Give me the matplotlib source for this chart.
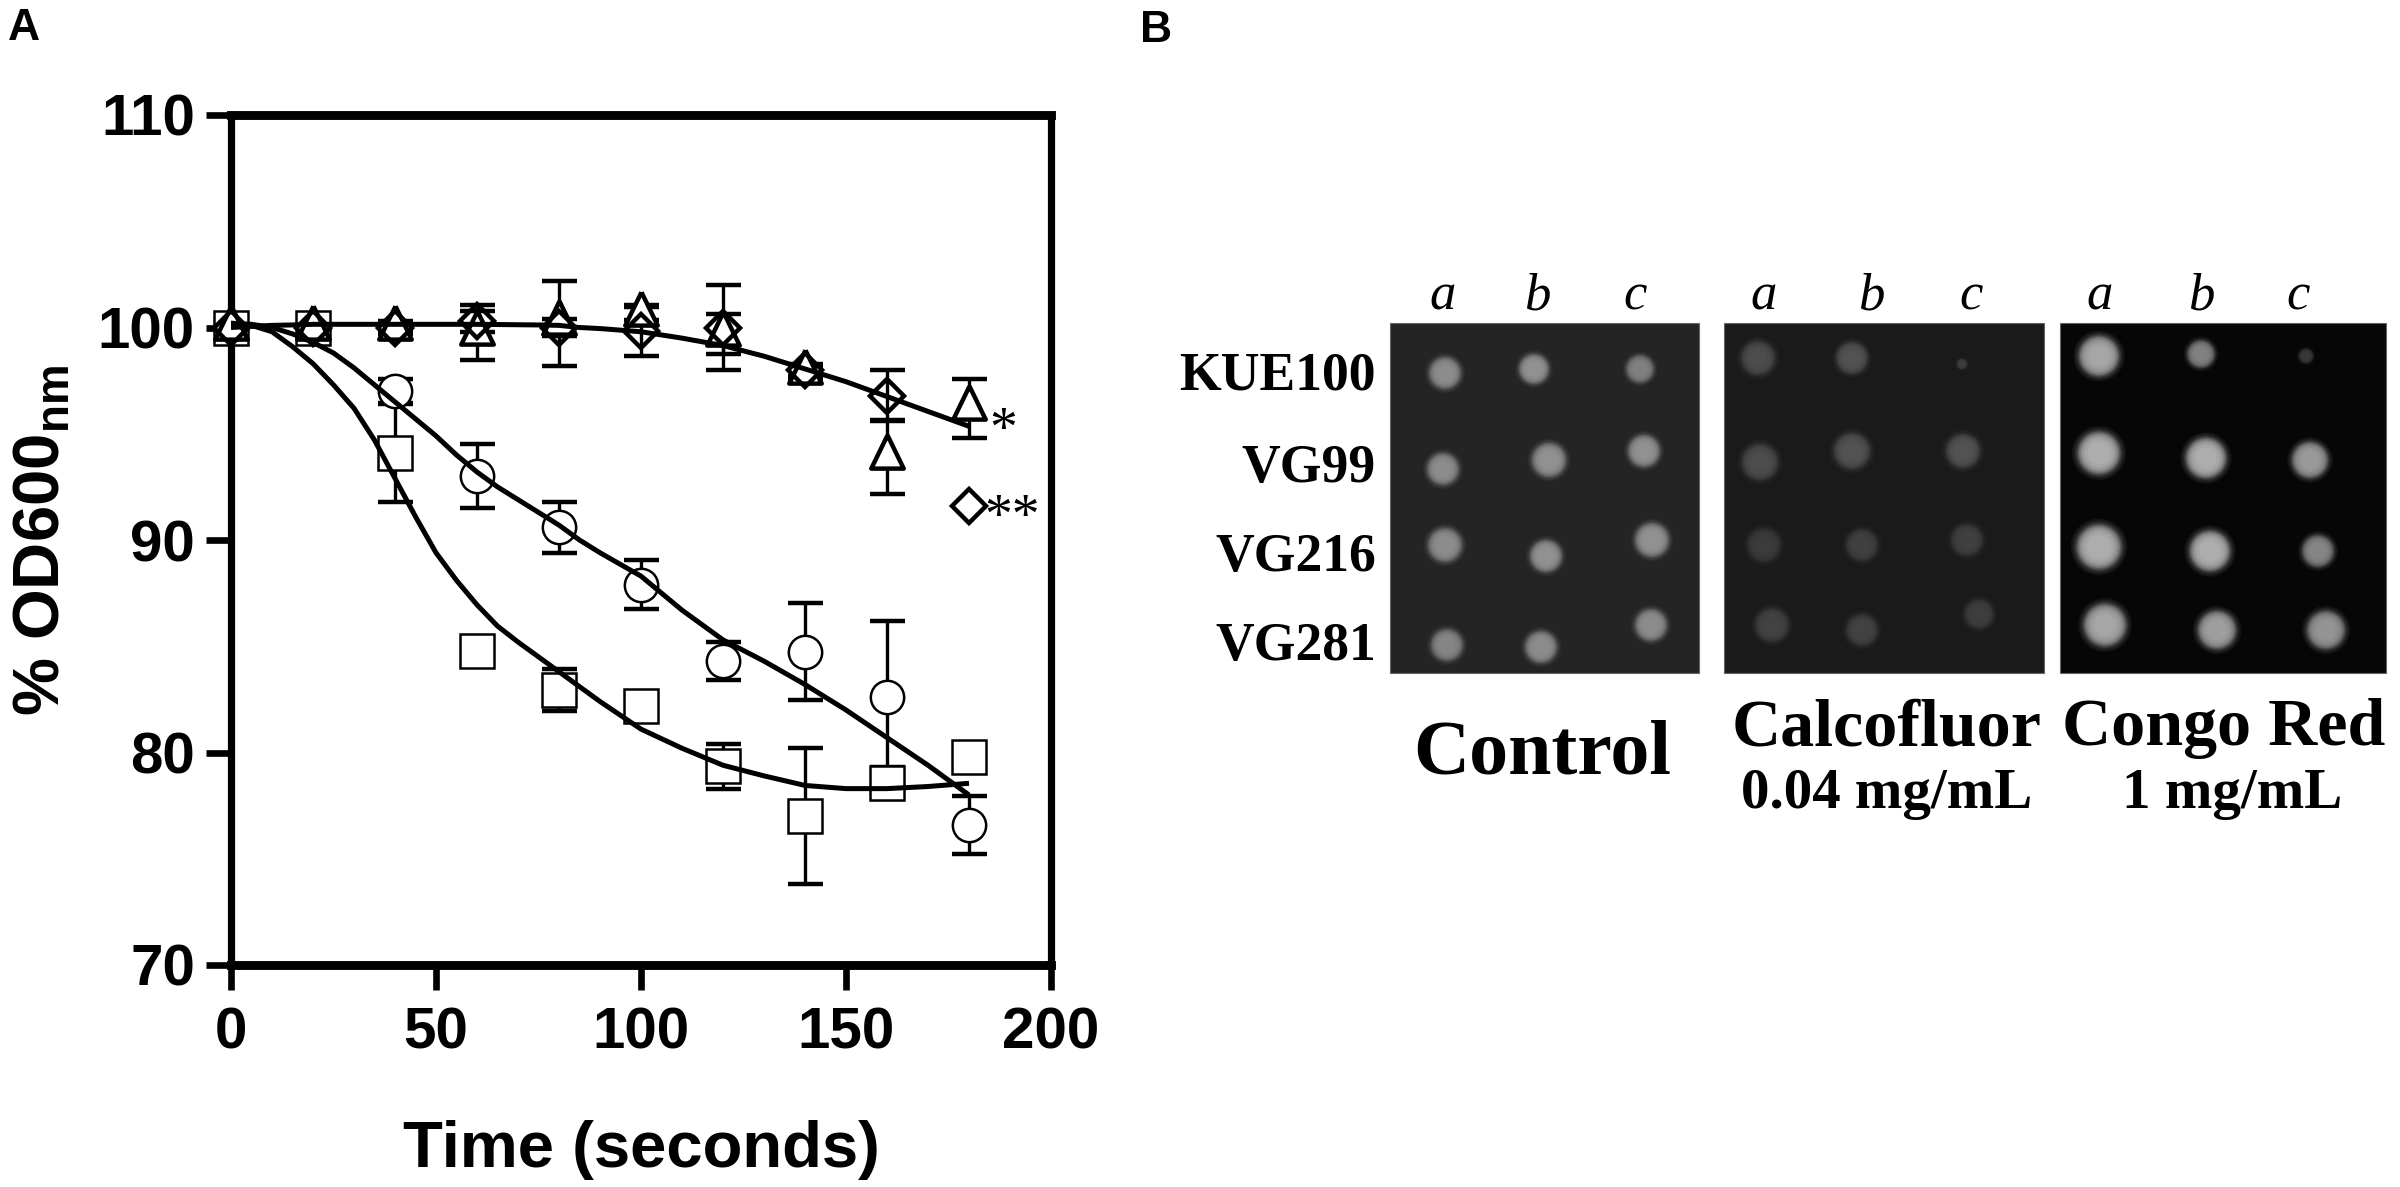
import numpy as np
import matplotlib
matplotlib.use("Agg")
import matplotlib.pyplot as plt
from matplotlib.patches import Rectangle, Circle
from matplotlib.markers import MarkerStyle

plt.rcParams['font.family'] = ['Liberation Sans', 'DejaVu Sans']
plt.rcParams['mathtext.fontset'] = 'custom'
plt.rcParams['mathtext.rm'] = 'Liberation Sans:bold'
plt.rcParams['mathtext.bf'] = 'Liberation Sans:bold'

# ---- panel A data ----
time_s = [0, 20, 40, 60, 80, 100, 120, 140, 160, 180]

circle_val = [100.0, 100.0, 97.0, 93.0, 90.6, 87.9, 84.3, 84.75, 82.6, 76.6]
circle_err = [0, 0, 0.6, 1.5, 1.2, 1.15, 0.9, 2.3, 3.6, 1.37]

square_val = [100.0, 100.0, 94.1, 84.8, 82.95, 82.2, 79.35, 77.0, 78.55, 79.8]
square_err = [0, 0, 2.33, 0, 1.0, 0.3, 1.07, 3.2, 0.75, 0]

triangle_val = [100.0, 100.0, 100.0, 99.75, 100.2, 100.65, 99.7, 97.9, 93.9, 96.2]
triangle_err = [0, 0, 0.3, 1.3, 2.0, 0.3, 0.95, 0.3, 1.75, 1.4]

diamond_val = [100.0, 100.0, 100.0, 100.3, 100.0, 99.85, 100.0, 98.0, 96.8, 91.6]
diamond_err = [0, 0, 0.2, 0.5, 0.4, 1.2, 2.0, 0.3, 1.2, 0]

# fitted curves
fit_t = [0, 5, 10, 15, 20, 25, 30, 35, 40, 45, 50, 55, 60, 65, 70, 75, 80, 85,
         90, 100, 110, 120, 130, 140, 150, 160, 170, 180]
fit_square = [100.2, 100.1, 99.8, 99.1, 98.3, 97.3, 96.2, 94.7, 92.9, 91.1, 89.4,
              88.1, 86.95, 85.95, 85.2, 84.5, 83.8, 83.1, 82.4, 81.1, 80.2, 79.4,
              78.9, 78.45, 78.3, 78.3, 78.4, 78.55]
fit_circle = [100.2, 100.15, 100.0, 99.7, 99.3, 98.8, 98.1, 97.3, 96.5, 95.7, 94.9,
              94.0, 93.2, 92.5, 91.9, 91.3, 90.7, 90.0, 89.4, 88.3, 86.7, 85.3,
              84.3, 83.2, 82.0, 80.7, 79.4, 78.0]
fit_upper = [100.0, 100.05, 100.1, 100.12, 100.15, 100.15, 100.15, 100.15, 100.15,
             100.15, 100.15, 100.15, 100.15, 100.14, 100.13, 100.12, 100.1, 100.0,
             99.95, 99.8, 99.5, 99.15, 98.65, 98.05, 97.45, 96.75, 96.05, 95.35]

# ---- panel B data (pixel positions on the plate photographs) ----
strains = ['KUE100', 'VG99', 'VG216', 'VG281']
strain_y = [390, 482, 571, 660]
replicates = ['a', 'b', 'c']

plate_names = ['Control', 'Calcofluor', 'Congo Red']
plate_doses = ['', '0.04 mg/mL', '1 mg/mL']
plate_left = [1390, 1724, 2060]
plate_right = [1699, 2044, 2386]
plate_bg = [0.14, 0.10, 0.025]
letter_x = [[1443, 1537, 1635], [1764, 1871, 1971], [2100, 2201, 2298]]
name_x = [1542, 1887, 2224]
name_y = [773, 745, 745]
name_size = [28, 24.5, 24.5]
dose_x = [0, 1887, 2232]

ctrl_x = [1445, 1534, 1640, 1443, 1549, 1644, 1445, 1546, 1652, 1447, 1541, 1651]
ctrl_y = [373, 369, 369, 469, 460, 451, 545, 556, 540, 645, 647, 625]
ctrl_r = [15, 14, 13, 15, 16, 15, 16, 15, 16, 15, 15, 15]
ctrl_lum = [0.55, 0.57, 0.50, 0.55, 0.57, 0.57, 0.55, 0.57, 0.57, 0.52, 0.55, 0.55]

calco_x = [1758, 1852, 1962, 1760, 1852, 1963, 1764, 1862, 1967, 1772, 1862, 1979]
calco_y = [358, 358, 364, 462, 451, 451, 545, 545, 540, 625, 630, 614]
calco_r = [16, 15, 5, 17, 17, 16, 16, 15, 15, 16, 15, 14]
calco_lum = [0.30, 0.32, 0.24, 0.30, 0.32, 0.32, 0.23, 0.25, 0.25, 0.26, 0.26, 0.24]

congo_x = [2099, 2201, 2306, 2099, 2206, 2310, 2099, 2210, 2318, 2105, 2217, 2326]
congo_y = [356, 354, 356, 453, 458, 460, 547, 551, 551, 625, 630, 630]
congo_r = [19, 13, 7, 20, 19, 17, 21, 19, 15, 20, 18, 18]
congo_lum = [0.65, 0.50, 0.22, 0.68, 0.68, 0.60, 0.68, 0.68, 0.52, 0.65, 0.62, 0.58]

spots = [(ctrl_x, ctrl_y, ctrl_r, ctrl_lum),
         (calco_x, calco_y, calco_r, calco_lum),
         (congo_x, congo_y, congo_r, congo_lum)]

W, H = 2400, 1187
fig = plt.figure(figsize=(12, 5.935), dpi=200)

# ================= panel A =================
ax = fig.add_axes([231 / W, 1 - 965 / H, 820 / W, 850 / H])
ax.set_xlim(0, 200)
ax.set_ylim(70, 110)
ax.set_xticks([0, 50, 100, 150, 200])
ax.set_yticks([70, 80, 90, 100, 110])
for side in ['top', 'bottom']:
    ax.spines[side].set_linewidth(3.2)
for side in ['left', 'right']:
    ax.spines[side].set_linewidth(2.6)
ax.tick_params(direction='out', length=9, width=2.4, labelsize=21)
ax.tick_params(axis='x', pad=6)
ax.tick_params(axis='y', pad=4)
for lab in ax.get_xticklabels() + ax.get_yticklabels():
    lab.set_fontweight('bold')

# triangle centred on its centroid, as the original software draws it
tri = MarkerStyle(np.array([[0, 1], [-0.73, -0.5], [0.73, -0.5], [0, 1]]))

series = [
    (circle_val, circle_err, dict(marker='o', ms=12, mew=0.9, mfc='white', zorder=3)),
    (square_val, square_err, dict(marker='s', ms=12, mew=0.9, mfc='white', zorder=3)),
    (triangle_val, triangle_err, dict(marker=tri, ms=16, mew=1.6, mfc='white', zorder=3.1)),
    (diamond_val, diamond_err, dict(marker='D', ms=8.9, mew=1.6, mfc='none', zorder=3.2)),
]
t_arr = np.array(time_s)
for vals, errs, style in series:
    vals = np.array(vals)
    errs = np.array(errs)
    has = errs > 0
    ax.errorbar(t_arr[has], vals[has], yerr=errs[has], fmt='none', ecolor='black',
                elinewidth=1.2, capsize=6.3, capthick=1.6, zorder=2, clip_on=False)
    ax.plot(time_s, vals, linestyle='none', color='black', mec='black',
            clip_on=False, **style)

ax.plot(fit_t, fit_square, color='black', lw=1.8, zorder=4, solid_capstyle='butt')
ax.plot(fit_t, fit_circle, color='black', lw=1.8, zorder=4, solid_capstyle='butt')
ax.plot(fit_t, fit_upper, color='black', lw=1.8, zorder=4, solid_capstyle='butt')

ax.annotate('*', xy=(188.3, 95.65), xytext=(0, -9.5), textcoords='offset points',
            ha='center', va='baseline', fontsize=20, family='Liberation Serif',
            annotation_clip=False)
ax.annotate('**', xy=(190.6, 91.57), xytext=(0, -9.5), textcoords='offset points',
            ha='center', va='baseline', fontsize=20, family='Liberation Serif',
            annotation_clip=False)

fig.text(42 / W, 1 - 540 / H, '% OD600$_{\\mathrm{nm}}$', rotation=90,
         ha='center', va='center', fontsize=23.5, fontweight='bold')
fig.text(641 / W, 1 - 1167 / H, 'Time (seconds)', ha='center', va='baseline',
         fontsize=23.5, fontweight='bold')
fig.text(8 / W, 1 - 40 / H, 'A', ha='left', va='baseline', fontsize=16, fontweight='bold')
fig.text(1140 / W, 1 - 42 / H, 'B', ha='left', va='baseline', fontsize=16, fontweight='bold')

# ================= panel B =================
bx = fig.add_axes([1100 / W, 0, 1300 / W, 1])
bx.set_xlim(1100, 2400)
bx.set_ylim(H, 0)
bx.axis('off')

serif = 'Liberation Serif'
# soft edge of the spots: radius fraction and share of the spot brightness
blur_scale = [1.35, 1.25, 1.15, 1.07, 1.0, 0.92, 0.82, 0.7, 0.55]
blur_frac = [0.08, 0.18, 0.32, 0.5, 0.66, 0.8, 0.9, 0.96, 1.0]

for p in range(3):
    bg = plate_bg[p]
    bx.add_patch(Rectangle((plate_left[p], 323), plate_right[p] - plate_left[p], 350,
                           facecolor=str(bg), edgecolor='0.4', lw=0.4))
    xs, ys, rs, ls = spots[p]
    for x, y, r, lum in zip(xs, ys, rs, ls):
        for frac, sc in zip(blur_frac, blur_scale):
            c = bg + (lum - bg) * frac
            bx.add_patch(Circle((x, y), r * sc, facecolor=str(c), edgecolor='none'))
    for lx, letter in zip(letter_x[p], replicates):
        bx.text(lx, 310, letter, ha='center', va='baseline', fontsize=19,
                family=serif, style='italic')
    bx.text(name_x[p], name_y[p], plate_names[p], ha='center', va='baseline',
            fontsize=name_size[p], family=serif, fontweight='bold')
    if plate_doses[p]:
        bx.text(dose_x[p], 808, plate_doses[p], ha='center', va='baseline',
                fontsize=20.5, family=serif, fontweight='bold')

for name, y in zip(strains, strain_y):
    bx.text(1376, y, name, ha='right', va='baseline', fontsize=19.3,
            family=serif, fontweight='bold')

fig.savefig('out.png', dpi=200)
